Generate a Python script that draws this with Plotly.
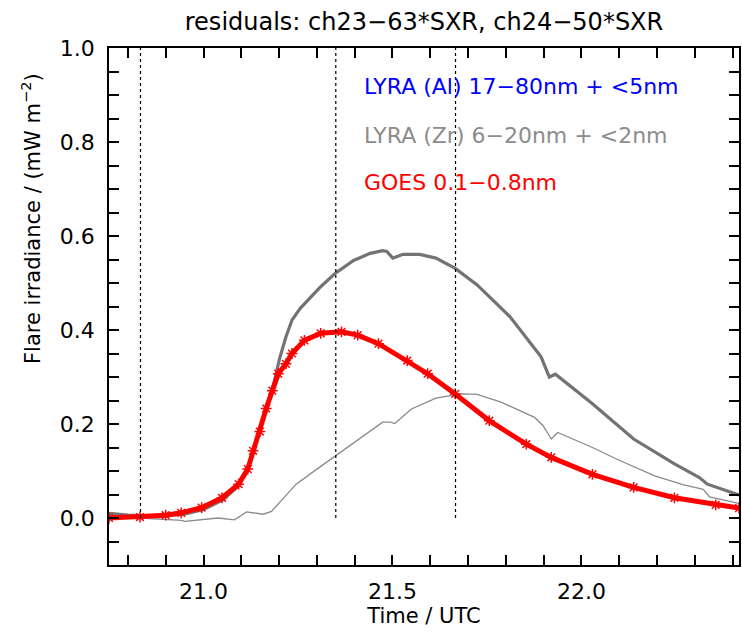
import plotly.graph_objects as go

# ---- data ----
time_al = [20.75, 20.80, 20.88, 20.95, 21.00, 21.05, 21.09, 21.115, 21.13, 21.148, 21.166, 21.182,
           21.19, 21.2016, 21.218, 21.234, 21.256, 21.278, 21.31, 21.349, 21.397, 21.441, 21.474,
           21.485, 21.501, 21.528, 21.572, 21.615, 21.666, 21.724, 21.811, 21.893, 21.915, 21.931,
           22.029, 22.138, 22.246, 22.312, 22.333, 22.4167]
irr_al = [0.010, 0.006, 0.004, 0.008, 0.018, 0.038, 0.066, 0.100, 0.140, 0.185, 0.233, 0.272,
          0.300, 0.340, 0.385, 0.421, 0.446, 0.464, 0.492, 0.521, 0.548, 0.563, 0.569,
          0.567, 0.553, 0.561, 0.561, 0.553, 0.531, 0.496, 0.428, 0.343, 0.300, 0.306,
          0.243, 0.168, 0.115, 0.086, 0.072, 0.049]

time_zr = [20.75, 20.832, 20.941, 20.951, 21.038, 21.082, 21.114, 21.158, 21.18, 21.212, 21.245,
           21.30, 21.349, 21.419, 21.474, 21.495, 21.506, 21.55, 21.615, 21.681, 21.724, 21.789,
           21.876, 21.898, 21.92, 21.937, 22.029, 22.094, 22.192, 22.268, 22.322, 22.339, 22.4167]
irr_zr = [0.006, 0.000, -0.005, -0.007, 0.000, -0.004, 0.013, 0.008, 0.014, 0.043, 0.072,
          0.104, 0.132, 0.172, 0.204, 0.204, 0.201, 0.232, 0.255, 0.264, 0.263, 0.246,
          0.214, 0.197, 0.168, 0.182, 0.150, 0.125, 0.090, 0.071, 0.061, 0.045, 0.031]

time_goes = [20.75, 20.832, 20.90, 20.941, 20.995, 21.049, 21.093, 21.117, 21.131, 21.149, 21.166,
             21.182, 21.198, 21.218, 21.234, 21.267, 21.31, 21.365, 21.408, 21.463, 21.539,
             21.593, 21.666, 21.756, 21.854, 21.92, 22.029, 22.138, 22.246, 22.355, 22.4167]
irr_goes = [0.000, 0.002, 0.006, 0.011, 0.022, 0.043, 0.072, 0.104, 0.143, 0.184, 0.233,
            0.271, 0.307, 0.328, 0.350, 0.378, 0.393, 0.396, 0.389, 0.371, 0.335,
            0.307, 0.264, 0.207, 0.157, 0.129, 0.093, 0.065, 0.043, 0.028, 0.021]

event_times = [20.8333, 21.35, 21.6667]

# tick positions and labels (every tick mark; labels only on the major ones)
x_tick_vals = [20.8, 20.9, 21.0, 21.1, 21.2, 21.3, 21.4, 21.5, 21.6, 21.7, 21.8, 21.9,
               22.0, 22.1, 22.2, 22.3, 22.4]
x_tick_text = ["", "", "21.0", "", "", "", "", "21.5", "", "", "", "", "22.0", "", "", "", ""]
y_tick_vals = [-0.05, 0.0, 0.05, 0.1, 0.15, 0.2, 0.25, 0.3, 0.35, 0.4, 0.45, 0.5, 0.55,
               0.6, 0.65, 0.7, 0.75, 0.8, 0.85, 0.9, 0.95, 1.0]
y_tick_text = ["", "0.0", "", "", "", "0.2", "", "", "", "0.4", "", "", "",
               "0.6", "", "", "", "0.8", "", "", "", "1.0"]

title_text = "residuals: ch23−63*SXR, ch24−50*SXR"
legend_labels = ["LYRA (Al) 17−80nm + <5nm", "LYRA (Zr) 6−20nm + <2nm", "GOES 0.1−0.8nm"]
legend_colors = ["#0000ff", "#8c8c8c", "#ff0000"]

FONT = "DejaVu Sans"

fig = go.Figure()

for t in event_times:
    fig.add_shape(type="line", xref="x", yref="y", x0=t, x1=t, y0=0.0, y1=1.0,
                  line=dict(color="black", width=1.2, dash="3px,3px"))

fig.add_trace(go.Scatter(x=time_zr, y=irr_zr, mode="lines",
                         line=dict(color="#8a8a8a", width=1.3), showlegend=False))
fig.add_trace(go.Scatter(x=time_al, y=irr_al, mode="lines",
                         line=dict(color="#737373", width=3.2), showlegend=False))
fig.add_trace(go.Scatter(x=time_goes, y=irr_goes, mode="lines+markers",
                         line=dict(color="#ff0000", width=5),
                         marker=dict(symbol="asterisk-open", size=9, color="#ff0000",
                                     line=dict(color="#ff0000", width=1.5)),
                         showlegend=False))

ys = [0.9246, 0.8317, 0.7408]
for lab, col, yy in zip(legend_labels, legend_colors, ys):
    fig.add_annotation(text=lab, xref="paper", yref="paper", x=0.4016, y=yy,
                       xanchor="left", yanchor="middle", showarrow=False,
                       font=dict(family=FONT, size=22, color=col))

fig.add_annotation(text="Flare irradiance / (mW m<sup>−2</sup>)", xref="paper", yref="paper",
                   x=-0.124, y=0.671, textangle=-90, showarrow=False,
                   xanchor="center", yanchor="middle",
                   font=dict(family=FONT, size=21, color="black"))

axis_common = dict(showline=True, linecolor="black", linewidth=1.5, mirror="ticks",
                   ticks="inside", ticklen=10, tickwidth=1.5, tickcolor="black",
                   showgrid=False, zeroline=False, automargin=False,
                   tickfont=dict(family=FONT, size=22, color="black"))

fig.update_xaxes(range=[20.75, 22.4167], tickmode="array",
                 tickvals=x_tick_vals, ticktext=x_tick_text,
                 ticklabelstandoff=6,
                 title=dict(text="Time / UTC", font=dict(family=FONT, size=21, color="black"),
                            standoff=2),
                 **axis_common)
fig.update_yaxes(range=[-0.1, 1.0], tickmode="array",
                 tickvals=y_tick_vals, ticktext=y_tick_text,
                 ticklabelstandoff=8,
                 **axis_common)

fig.update_layout(
    width=742, height=634,
    margin=dict(l=109, r=3, t=48, b=69),
    paper_bgcolor="white", plot_bgcolor="white",
    title=dict(text=title_text, x=0.5, xref="paper", xanchor="center",
               y=1 - 22 / 634, yref="container", yanchor="middle",
               font=dict(family=FONT, size=24, color="black")),
    showlegend=False,
)

fig.write_html("out.html", config={"displayModeBar": False},
               post_script="document.body.style.margin='0px';")
